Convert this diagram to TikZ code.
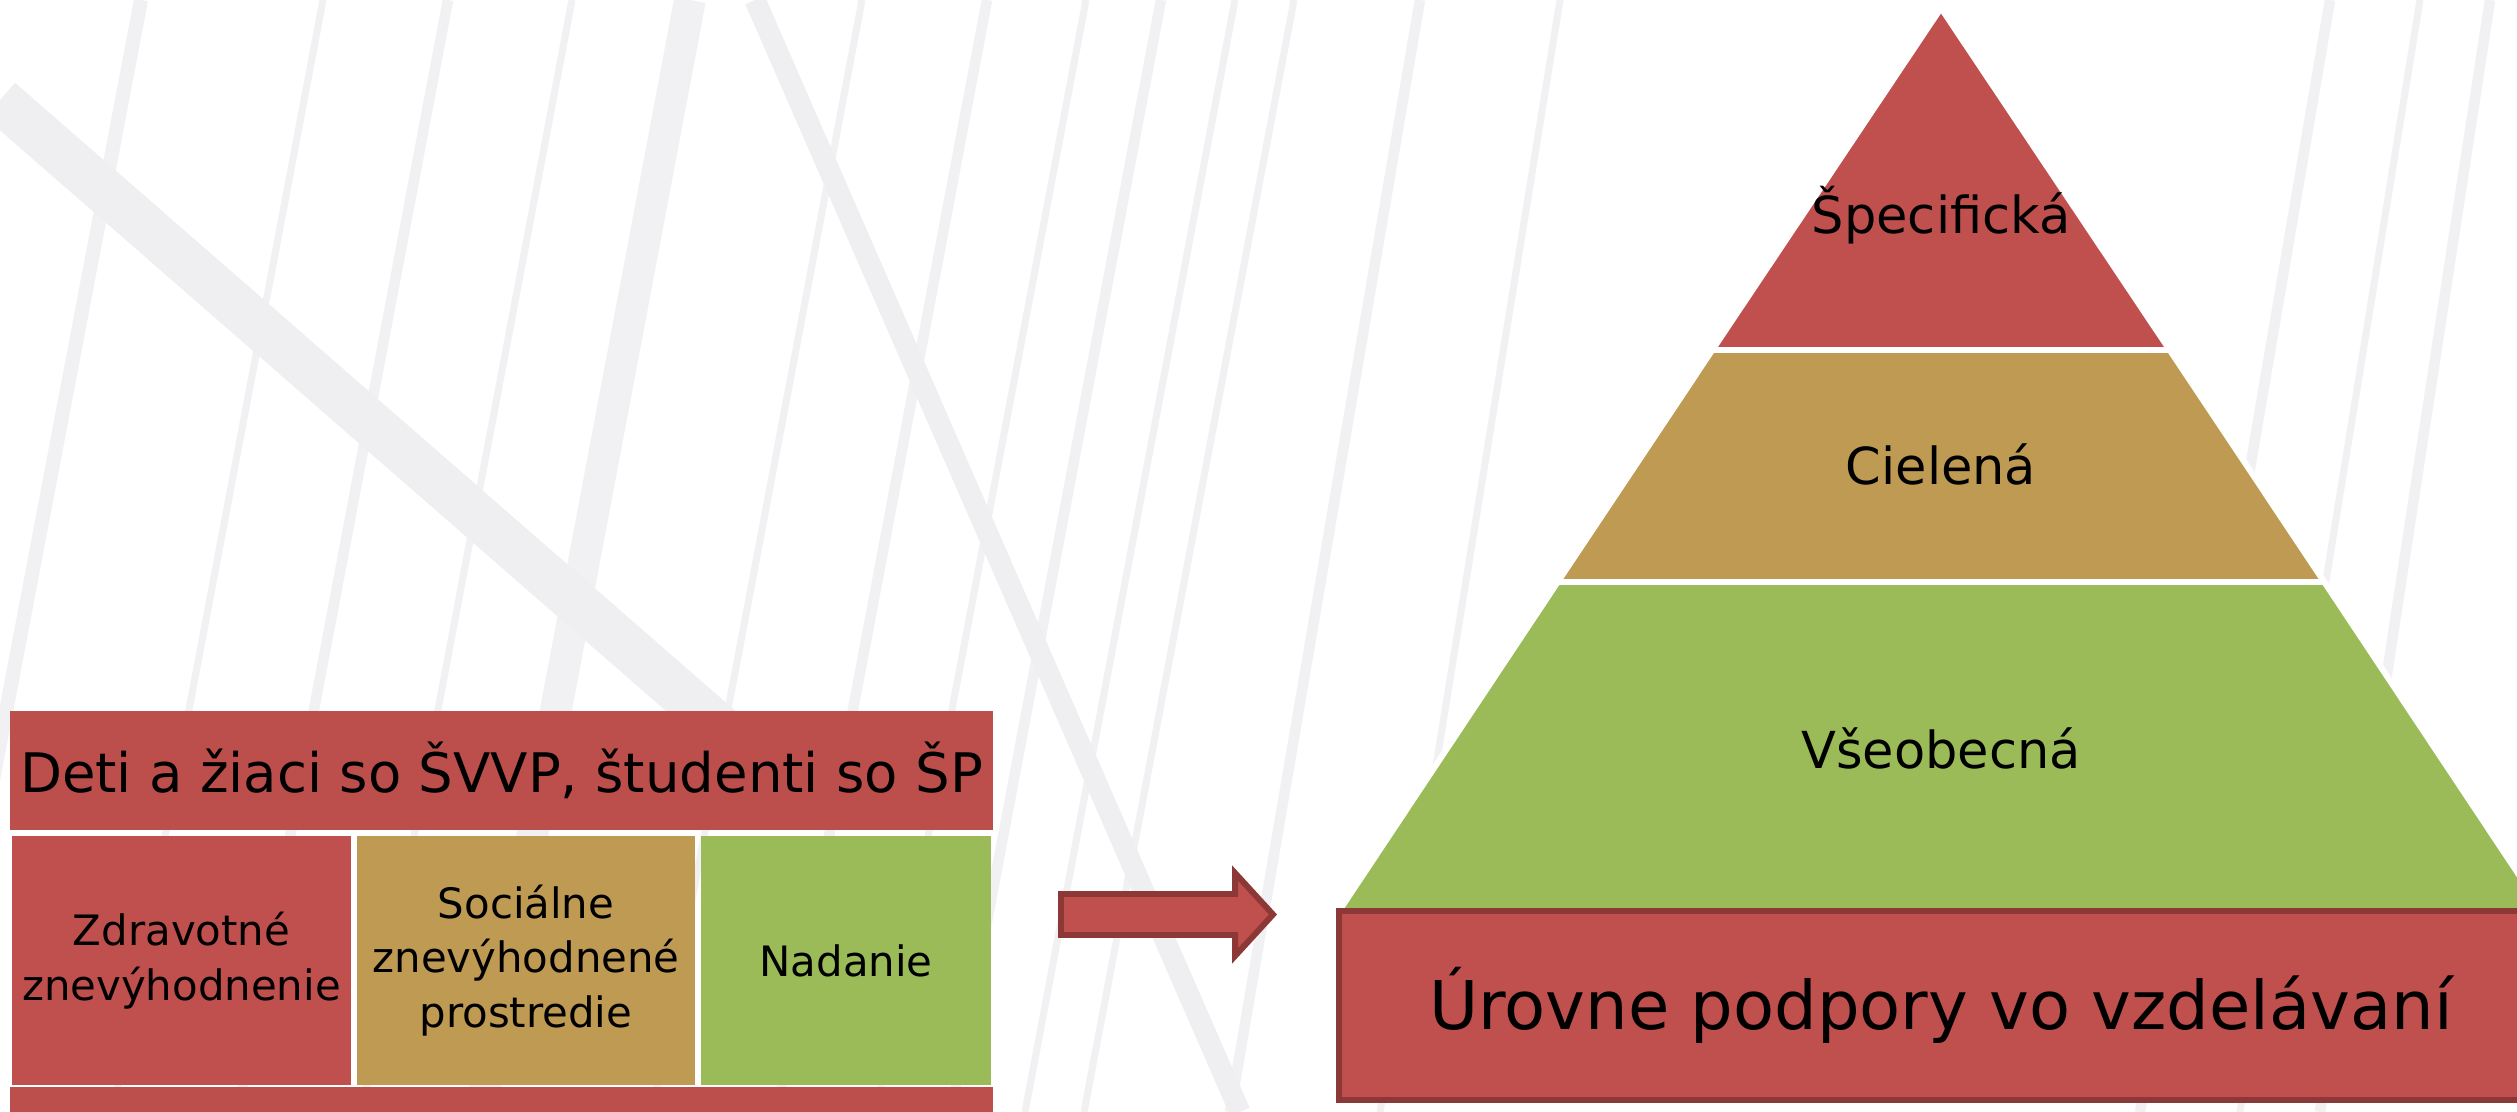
\documentclass[tikz,border=0pt]{standalone}
\usepackage{fontspec}
\setmainfont{DejaVu Sans}
\definecolor{podred}{HTML}{C0504D}
\definecolor{podhead}{HTML}{BC4F4B}
\definecolor{podedge}{HTML}{8C3836}
\definecolor{podtan}{HTML}{BE9A52}
\definecolor{podgreen}{HTML}{9BBB59}
\definecolor{podstreak}{HTML}{F1F1F3}
\definecolor{podband}{HTML}{EFEFF1}
\tikzset{
  cell/.style={inner sep=0pt, outer sep=0pt, align=center, text=black,
    font=\fontsize{11.9}{15.6}\selectfont},
  layer/.style={draw=white, line width=1.7pt, line join=round},
  layertext/.style={inner sep=0pt, text=black, font=\fontsize{14.5}{17}\selectfont},
  streak/.style={draw=podstreak, line width=#1},
  band/.style={draw=podband, line width=#1},
  blockarrow/.style={fill=podred, draw=podedge, line width=1.7pt}
}
\begin{document}
\begin{tikzpicture}[x=0.01cm,y=-0.01cm]
\clip (0,0) rectangle (2517,1112);
\fill[white] (0,0) rectangle (2517,1112);
\foreach \a/\b/\w in {141/-70/4pt, 323/113/2pt, 448/238/3pt, 572/362/2pt, 690/480/9pt,
  862/652/2pt, 987/777/3pt, 1086/876/2pt, 1161/951/3pt, 1235/1025/2pt, 1294/1084/2pt,
  1420/1230/3pt, 1560/1380/2pt, 2330/2140/3pt, 2420/2240/2pt, 2490/2320/3pt}
  \draw[streak=\w] (\a,0) -- (\b,1112);
\draw[band=13pt] (0,100) -- (780,780);
\draw[band=6pt] (755,0) -- (1240,1112);
\node[cell, fill=podhead, minimum width=9.83cm, minimum height=1.19cm,
  font=\fontsize{15.5}{18}\selectfont] (skupina) at (501.5,770.5)
  {Deti a žiaci so ŠVVP, študenti so ŠP};
\node[cell, fill=podred, minimum width=3.39cm, minimum height=2.49cm] (zdrav) at (181.5,960.5)
  {Zdravotné\\znevýhodnenie};
\node[cell, fill=podtan, minimum width=3.38cm, minimum height=2.49cm] (social) at (526,960.5)
  {Sociálne\\znevýhodnené\\prostredie};
\node[cell, fill=podgreen, minimum width=2.90cm, minimum height=2.49cm] (nadanie) at (846,960.5)
  {Nadanie};
\node[cell, fill=podhead, minimum width=9.83cm, minimum height=0.6cm, anchor=north] (spodok) at (501.5,1087) {};
\draw[blockarrow] (1061,894) -- (1235,894) -- (1235,873) -- (1273,914.5) -- (1235,956)
  -- (1235,935) -- (1061,935) -- cycle;
\filldraw[layer, fill=podred] (1941,8) -- (2169.7,350) -- (1712.3,350) -- cycle;
\filldraw[layer, fill=podtan] (1712.3,350) -- (2169.7,350) -- (2324.3,582) -- (1557.7,582) -- cycle;
\filldraw[layer, fill=podgreen] (1557.7,582) -- (2324.3,582) -- (2543,911) -- (1339,911) -- cycle;
\node[layertext] (specificka) at (1941,215) {Špecifická};
\node[layertext] (cielena) at (1941,464) {Cielená};
\node[layertext] (vseobecna) at (1941,748) {Všeobecná};
\node[cell, fill=podred, draw=podedge, line width=1.7pt, minimum width=12.04cm, minimum height=1.89cm,
  font=\fontsize{19.1}{22}\selectfont] (urovne) at (1941,1005.5) {Úrovne podpory vo vzdelávaní};
\end{tikzpicture}
\end{document}
